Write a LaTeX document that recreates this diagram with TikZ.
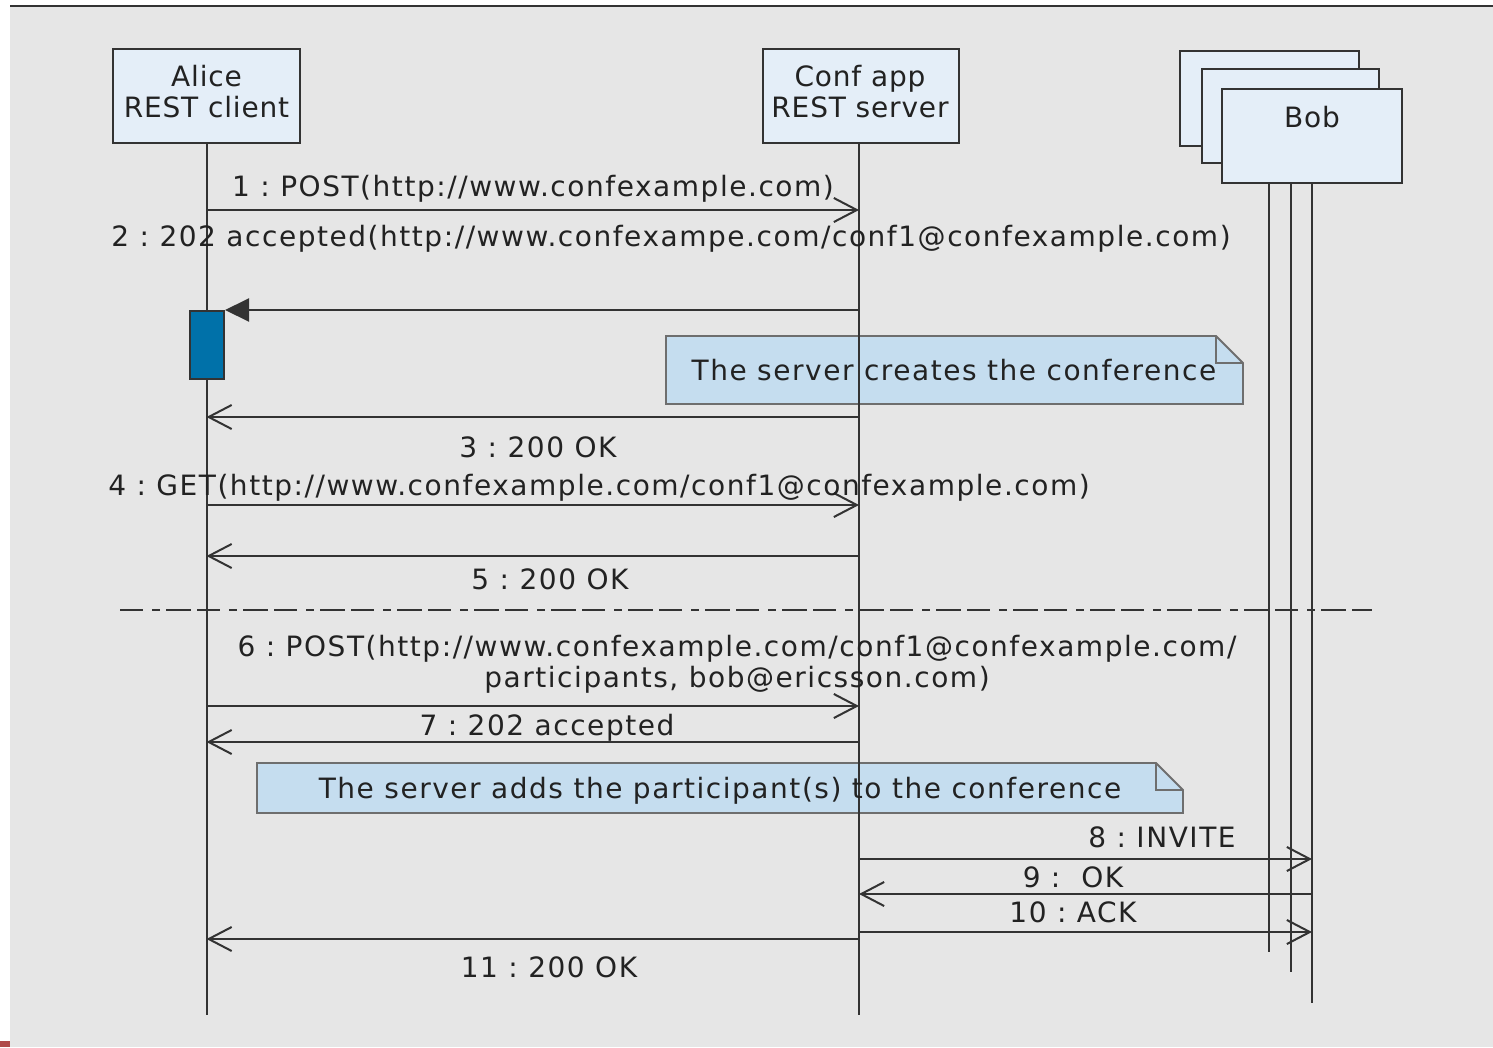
\documentclass[tikz,border=0pt]{standalone}
\usepackage{fontspec}
\setmainfont[LetterSpace=5.5]{DejaVu Sans}
\usetikzlibrary{arrows.meta}
\definecolor{bggray}{HTML}{E6E6E6}
\definecolor{boxfill}{HTML}{E4EEF8}
\definecolor{notefill}{HTML}{C5DDEF}
\definecolor{noteline}{HTML}{6E6E6E}
\definecolor{actfill}{HTML}{0071A9}
\definecolor{ink}{HTML}{333333}
\definecolor{txt}{HTML}{222222}
\definecolor{markred}{HTML}{B04A4A}
\frenchspacing
\begin{document}
\begin{tikzpicture}[x=1pt,y=-1pt,
  every node/.style={font=\fontsize{28}{31}\selectfont, text=txt},
  party/.style={draw=ink, line width=2.6pt, fill=boxfill, inner sep=0pt},
  ptext/.style={inner sep=0pt, align=center, font=\fontsize{28}{31}\selectfont\addfontfeature{LetterSpace=3}},
  life/.style={draw=ink, line width=2pt},
  msg/.style={draw=ink, line width=2pt, -{Straight Barb[length=23pt,width=24pt]}},
  msgf/.style={draw=ink, line width=2pt, -{Triangle[length=24pt,width=23pt]}},
  lbl/.style={inner sep=0pt, text height=20pt, text depth=0pt},
  notebg/.style={fill=notefill, draw=noteline, line width=1.8pt, line join=miter},
  sepline/.style={draw=ink, line width=2pt, dash pattern=on 23pt off 9pt on 8pt off 6pt on 25pt off 6pt}
]
\useasboundingbox (0,0) rectangle (1493,1047);
% background
\fill[white] (0,0) rectangle (1493,1047);
\fill[bggray] (10,7) rectangle (1493,1047);
\draw[ink, line width=2.4pt] (10,6) -- (1493,6);
\fill[markred] (0,1041) rectangle (10,1047);

% notes
\path[notebg] (666,336) -- (1216,336) -- (1243,363) -- (1243,404) -- (666,404) -- cycle;
\draw[noteline, line width=1.8pt] (1216,336) -- (1216,363) -- (1243,363);
\path[notebg] (257,763) -- (1156,763) -- (1183,790) -- (1183,813) -- (257,813) -- cycle;
\draw[noteline, line width=1.8pt] (1156,763) -- (1156,790) -- (1183,790);

% participant anchors
\path node[party, minimum width=187pt, minimum height=94pt, draw=none, fill=none] (alice) at (206.5,96) {}
      node[party, minimum width=196pt, minimum height=94pt, draw=none, fill=none] (conf) at (861,96) {};

% lifelines
\coordinate (aliceEnd) at (206.5,1015);
\coordinate (confEnd) at (859,1015);
\coordinate (bob3End) at (1268.5,952);
\coordinate (bob2End) at (1290.5,972);
\coordinate (bobEnd) at (1312,1003);
\draw[life] (alice.south) -- (aliceEnd);
\draw[life] (conf.south -| confEnd) -- (confEnd);
\draw[life] (bob3End |- 0,146) -- (bob3End);
\draw[life] (bob2End |- 0,163) -- (bob2End);
\draw[life] (bobEnd |- 0,183) -- (bobEnd);

% boxes
\node[party, minimum width=187pt, minimum height=94pt] (aliceBox) at (206.5,96) {};
\node[ptext] (aliceTxt) at (206.5,92) {Alice\\REST client};
\node[party, minimum width=196pt, minimum height=94pt] (confBox) at (861,96) {};
\node[ptext] (confTxt) at (860,92) {Conf app\\REST server};
\node[party, minimum width=179pt, minimum height=95pt] (bob3) at (1269.5,98.5) {};
\node[party, minimum width=177pt, minimum height=94pt] (bob2) at (1290.5,116) {};
\node[party, minimum width=180pt, minimum height=94pt] (bob) at (1312,136) {};
\node[ptext] (bobtxt) at (1312,117) {Bob};

% activation
\node[draw=ink, line width=2pt, fill=actfill, minimum width=34pt, minimum height=68pt, inner sep=0pt] (act) at (207,345) {};

% separator
\coordinate (sepL) at (120,610);
\coordinate (sepR) at (1372,610);
\draw[sepline] (sepL) -- (sepR);

% messages
\draw[msg] (aliceEnd |- 0,210) -- (confEnd |- 0,210);
\draw[msgf] (confEnd |- 0,310) -- (act.north east);
\draw[msg] (confEnd |- 0,417) -- (aliceEnd |- 0,417);
\draw[msg] (aliceEnd |- 0,505) -- (confEnd |- 0,505);
\draw[msg] (confEnd |- 0,556) -- (aliceEnd |- 0,556);
\draw[msg] (aliceEnd |- 0,706) -- (confEnd |- 0,706);
\draw[msg] (confEnd |- 0,742) -- (aliceEnd |- 0,742);
\draw[msg] (confEnd |- 0,859) -- (bobEnd |- 0,859);
\draw[msg] (bobEnd |- 0,894) -- (confEnd |- 0,894);
\draw[msg] (confEnd |- 0,932) -- (bobEnd |- 0,932);
\draw[msg] (confEnd |- 0,939) -- (aliceEnd |- 0,939);

% labels
\node[lbl] (l1) at (533,186) {1 : POST(http://www.confexample.com)};
\node[lbl] (l2) at (671,236) {2 : 202 accepted(http://www.confexampe.com/conf1@confexample.com)};
\node[lbl] (nt1) at (954,370) {The server creates the conference};
\node[lbl] (l3) at (538,447) {3 : 200 OK};
\node[lbl] (l4) at (599,485) {4 : GET(http://www.confexample.com/conf1@confexample.com)};
\node[lbl] (l5) at (550,579) {5 : 200 OK};
\node[inner sep=0pt, align=center] (l6) at (737,664) {6 : POST(http://www.confexample.com/conf1@confexample.com/\\participants, bob@ericsson.com)};
\node[lbl] (l7) at (547,725) {7 : 202 accepted};
\node[lbl] (nt2) at (720,788) {The server adds the participant(s) to the conference};
\node[lbl] (l8) at (1162,837) {8 : INVITE};
\node[lbl] (l9) at (1073,877) {9 :\ \ OK};
\node[lbl] (l10) at (1073,912) {10 : ACK};
\node[lbl] (l11) at (549,967) {11 : 200 OK};
\end{tikzpicture}
\end{document}
